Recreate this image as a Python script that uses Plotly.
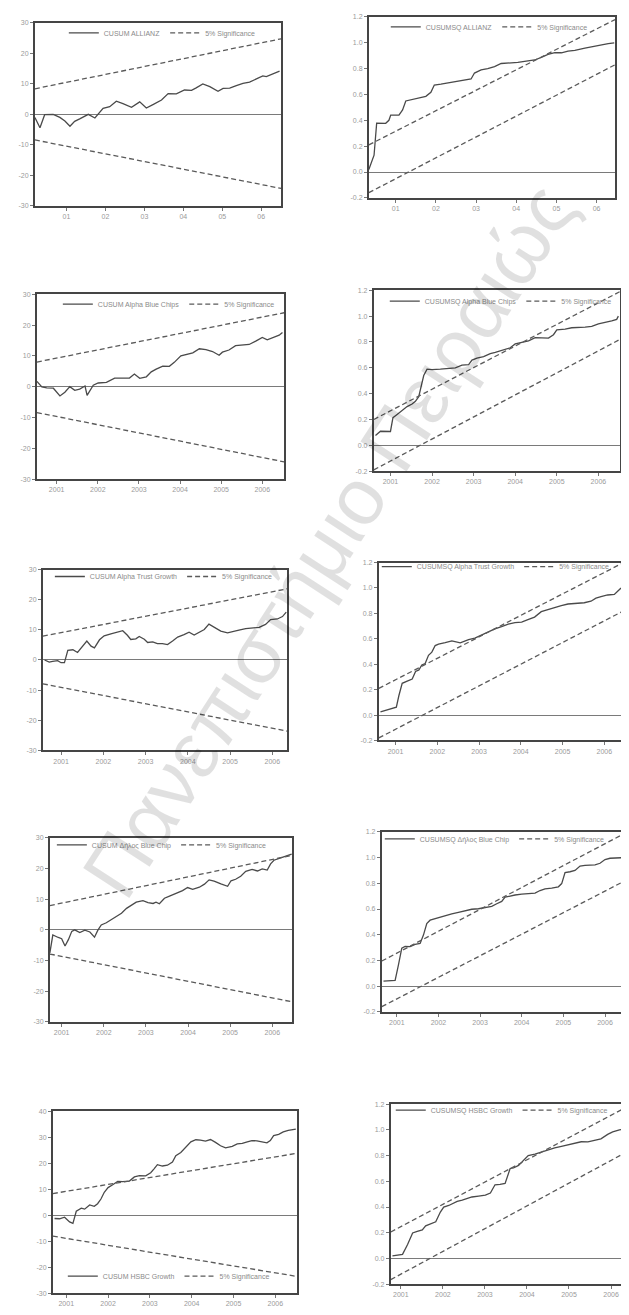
import plotly.graph_objects as go

# The page body has an 8px default margin; the figure is sized to fit the 629x1315 window.
OFF = 8
W, H = 629 - OFF, 1315 - 2 * OFF

# ---------------- tick values / labels ----------------
year_ticks = [2001, 2002, 2003, 2004, 2005, 2006]
year_labels_short = ["01", "02", "03", "04", "05", "06"]
year_labels_long = ["2001", "2002", "2003", "2004", "2005", "2006"]
cusum_ticks = [-30, -20, -10, 0, 10, 20, 30]
cusum_labels = ["-30", "-20", "-10", "0", "10", "20", "30"]
cusum_range = [-30, 30]
hsbc_cusum_ticks = [-30, -20, -10, 0, 10, 20, 30, 40]
hsbc_cusum_labels = ["-30", "-20", "-10", "0", "10", "20", "30", "40"]
hsbc_cusum_range = [-30, 40]
cusumsq_ticks = [-0.2, 0.0, 0.2, 0.4, 0.6, 0.8, 1.0, 1.2]
cusumsq_labels = ["-0.2", "0.0", "0.2", "0.4", "0.6", "0.8", "1.0", "1.2"]
cusumsq_range = [-0.2, 1.2]

# ---------------- ALLIANZ ----------------
allianz_cusum_t = [2000.19, 2000.32, 2000.44, 2000.66, 2000.83, 2000.96, 2001.09, 2001.21, 2001.34, 2001.47,
                   2001.56, 2001.73, 2001.81, 2001.94, 2002.11, 2002.28, 2002.45, 2002.67, 2002.88, 2003.05,
                   2003.22, 2003.44, 2003.61, 2003.82, 2004.03, 2004.21, 2004.33, 2004.50, 2004.68, 2004.89,
                   2005.02, 2005.19, 2005.36, 2005.53, 2005.70, 2005.87, 2006.04, 2006.13, 2006.30, 2006.47]
allianz_cusum = [-1.0, -4.4, -0.1, 0.0, -1.0, -2.2, -3.9, -2.3, -1.5, -0.5,
                 0.0, -1.2, 0.1, 2.0, 2.5, 4.3, 3.5, 2.3, 4.1, 2.1,
                 3.2, 4.7, 6.8, 6.7, 8.0, 7.9, 8.7, 10.0, 9.1, 7.6,
                 8.5, 8.6, 9.4, 10.2, 10.6, 11.6, 12.6, 12.4, 13.4, 14.2]
allianz_cusum_sig_t = [2000.19, 2006.51]
allianz_cusum_upper = [8.4, 24.8]
allianz_cusum_lower = [-8.4, -24.3]

allianz_sq_t = [2000.33, 2000.46, 2000.525, 2000.75, 2000.83, 2000.875, 2001.08, 2001.17, 2001.25, 2001.46,
                2001.625, 2001.75, 2001.875, 2001.96, 2002.125, 2002.33, 2002.54, 2002.75, 2002.875, 2002.96,
                2003.125, 2003.29, 2003.46, 2003.625, 2003.83, 2004.04, 2004.25, 2004.46, 2004.625, 2004.79,
                2004.96, 2005.125, 2005.29, 2005.46, 2005.71, 2005.875, 2006.04, 2006.29, 2006.44]
allianz_sq = [0.02, 0.13, 0.378, 0.377, 0.40, 0.44, 0.44, 0.48, 0.55, 0.567,
              0.58, 0.586, 0.617, 0.673, 0.68, 0.69, 0.70, 0.71, 0.72, 0.766,
              0.79, 0.80, 0.815, 0.84, 0.844, 0.848, 0.858, 0.867, 0.887, 0.91,
              0.924, 0.923, 0.935, 0.942, 0.959, 0.97, 0.98, 0.994, 1.0]
allianz_sq_sig_t = [2000.33, 2006.46]
allianz_sq_upper = [0.21, 1.18]
allianz_sq_lower = [-0.16, 0.83]

# ---------------- Alpha Blue Chips ----------------
alphabc_cusum_t = [2000.52, 2000.64, 2000.76, 2000.92, 2001.08, 2001.20, 2001.32, 2001.44, 2001.56, 2001.69,
                   2001.74, 2001.81, 2001.89, 2002.01, 2002.21, 2002.41, 2002.61, 2002.77, 2002.89, 2003.02,
                   2003.18, 2003.30, 2003.42, 2003.58, 2003.74, 2003.86, 2004.02, 2004.15, 2004.31, 2004.47,
                   2004.63, 2004.79, 2004.95, 2005.03, 2005.19, 2005.35, 2005.52, 2005.68, 2005.84, 2006.00,
                   2006.12, 2006.25, 2006.41, 2006.49]
alphabc_cusum = [1.7, -0.1, -0.4, -0.5, -3.0, -1.8, 0.0, -1.2, -0.8, 0.2,
                 -2.8, -1.4, 0.5, 1.2, 1.4, 2.8, 2.7, 2.8, 4.1, 2.7,
                 3.2, 4.8, 5.7, 6.7, 6.6, 7.9, 10.0, 10.5, 11.0, 12.3,
                 12.0, 11.4, 10.2, 11.2, 11.9, 13.3, 13.6, 13.7, 14.8, 16.0,
                 15.2, 15.9, 16.7, 17.6]
alphabc_cusum_sig_t = [2000.52, 2006.53]
alphabc_cusum_upper = [8.0, 24.0]
alphabc_cusum_lower = [-8.4, -24.4]

alphabc_sq_t = [2000.64, 2000.76, 2001.0, 2001.06, 2001.16, 2001.28, 2001.40, 2001.52, 2001.60, 2001.68,
                2001.72, 2001.80, 2001.88, 2002.0, 2002.2, 2002.4, 2002.56, 2002.72, 2002.88, 2002.96,
                2003.08, 2003.24, 2003.40, 2003.52, 2003.72, 2003.88, 2004.0, 2004.16, 2004.32, 2004.48,
                2004.8, 2004.92, 2005.0, 2005.2, 2005.36, 2005.68, 2005.84, 2006.0, 2006.16, 2006.32,
                2006.44, 2006.48]
alphabc_sq = [0.076, 0.109, 0.107, 0.214, 0.239, 0.27, 0.30, 0.32, 0.34, 0.377,
              0.44, 0.54, 0.59, 0.586, 0.59, 0.594, 0.60, 0.62, 0.625, 0.66,
              0.675, 0.687, 0.71, 0.72, 0.74, 0.755, 0.785, 0.797, 0.808, 0.833,
              0.83, 0.856, 0.894, 0.90, 0.91, 0.915, 0.92, 0.94, 0.95, 0.963,
              0.975, 1.0]
alphabc_sq_sig_t = [2000.6, 2006.52]
alphabc_sq_upper = [0.2, 1.19]
alphabc_sq_lower = [-0.19, 0.82]

# ---------------- Alpha Trust Growth ----------------
alphatg_cusum_t = [2000.61, 2000.72, 2000.80, 2000.92, 2001.0, 2001.08, 2001.16, 2001.28, 2001.39, 2001.51,
                   2001.61, 2001.71, 2001.79, 2001.91, 2002.02, 2002.18, 2002.34, 2002.46, 2002.57, 2002.65,
                   2002.77, 2002.85, 2002.97, 2003.05, 2003.17, 2003.28, 2003.40, 2003.52, 2003.64, 2003.76,
                   2003.91, 2004.03, 2004.15, 2004.27, 2004.39, 2004.50, 2004.62, 2004.78, 2004.94, 2005.06,
                   2005.21, 2005.37, 2005.53, 2005.69, 2005.84, 2005.96, 2006.12, 2006.24, 2006.33]
alphatg_cusum = [0.0, -0.7, -0.45, -0.2, -0.9, -0.9, 3.2, 3.4, 2.5, 4.7,
                 6.3, 4.6, 4.0, 6.7, 8.0, 8.7, 9.4, 9.7, 8.2, 6.8,
                 7.0, 7.8, 6.9, 5.8, 6.0, 5.4, 5.4, 5.1, 6.3, 7.6,
                 8.4, 9.2, 8.3, 9.3, 10.1, 11.9, 10.8, 9.6, 9.0, 9.5,
                 9.9, 10.4, 10.6, 10.8, 11.8, 13.4, 13.6, 14.4, 15.9]
alphatg_cusum_sig_t = [2000.57, 2006.35]
alphatg_cusum_upper = [7.9, 23.6]
alphatg_cusum_lower = [-7.9, -23.6]

alphatg_sq_t = [2000.64, 2000.76, 2000.88, 2001.02, 2001.08, 2001.16, 2001.28, 2001.40, 2001.48, 2001.56,
                2001.63, 2001.71, 2001.79, 2001.87, 2001.95, 2002.03, 2002.19, 2002.35, 2002.55, 2002.63,
                2002.75, 2002.90, 2003.06, 2003.22, 2003.38, 2003.54, 2003.70, 2003.86, 2004.02, 2004.17,
                2004.33, 2004.49, 2004.65, 2004.81, 2004.97, 2005.13, 2005.29, 2005.52, 2005.68, 2005.80,
                2005.92, 2006.08, 2006.24, 2006.35, 2006.40]
alphatg_sq = [0.026, 0.038, 0.045, 0.062, 0.152, 0.25, 0.267, 0.284, 0.343, 0.355,
              0.394, 0.406, 0.47, 0.495, 0.547, 0.559, 0.57, 0.583, 0.569, 0.58,
              0.593, 0.605, 0.63, 0.654, 0.679, 0.696, 0.716, 0.728, 0.732, 0.751,
              0.771, 0.814, 0.831, 0.85, 0.862, 0.874, 0.878, 0.884, 0.896, 0.92,
              0.933, 0.945, 0.95, 0.98, 1.0]
alphatg_sq_sig_t = [2000.6, 2006.4]
alphatg_sq_upper = [0.21, 1.19]
alphatg_sq_lower = [-0.18, 0.81]

# ---------------- Δήλος Blue Chip ----------------
delos_cusum_t = [2000.72, 2000.79, 2000.92, 2001.0, 2001.08, 2001.16, 2001.24, 2001.31, 2001.43, 2001.55,
                 2001.67, 2001.78, 2001.86, 2001.94, 2002.06, 2002.18, 2002.30, 2002.42, 2002.54, 2002.65,
                 2002.77, 2002.93, 2003.05, 2003.17, 2003.24, 2003.32, 2003.44, 2003.56, 2003.72, 2003.87,
                 2003.99, 2004.11, 2004.27, 2004.39, 2004.50, 2004.62, 2004.78, 2004.94, 2005.02, 2005.13,
                 2005.25, 2005.37, 2005.52, 2005.65, 2005.76, 2005.88, 2005.96, 2006.04, 2006.20, 2006.35,
                 2006.46]
delos_cusum = [-7.5, -1.7, -2.5, -2.9, -5.3, -3.2, -0.5, 0.0, -0.9, -0.1,
               -0.7, -2.4, -0.1, 1.6, 2.3, 3.4, 4.4, 5.4, 7.0, 8.0,
               9.0, 9.5, 8.9, 8.6, 9.0, 8.5, 10.3, 11.0, 11.8, 12.8,
               13.8, 13.2, 13.9, 14.9, 16.3, 15.9, 15.0, 14.2, 16.0, 16.5,
               17.5, 19.1, 19.7, 19.2, 19.9, 19.5, 21.5, 22.7, 23.5, 24.3,
               24.7]
delos_cusum_sig_t = [2000.72, 2006.47]
delos_cusum_upper = [7.9, 24.3]
delos_cusum_lower = [-7.9, -23.5]

delos_sq_t = [2000.68, 2000.84, 2000.96, 2001.04, 2001.12, 2001.20, 2001.32, 2001.44, 2001.56, 2001.64,
              2001.72, 2001.80, 2001.92, 2002.08, 2002.20, 2002.32, 2002.48, 2002.64, 2002.80, 2002.96,
              2003.12, 2003.28, 2003.40, 2003.52, 2003.60, 2003.72, 2003.84, 2004.0, 2004.16, 2004.32,
              2004.44, 2004.56, 2004.72, 2004.88, 2004.96, 2005.04, 2005.16, 2005.28, 2005.40, 2005.52,
              2005.76, 2005.88, 2006.0, 2006.12, 2006.44]
delos_sq = [0.039, 0.043, 0.045, 0.166, 0.296, 0.309, 0.308, 0.325, 0.332, 0.397,
            0.487, 0.513, 0.525, 0.537, 0.555, 0.562, 0.574, 0.586, 0.598, 0.602,
            0.609, 0.621, 0.641, 0.659, 0.692, 0.702, 0.709, 0.716, 0.72, 0.724,
            0.744, 0.757, 0.763, 0.773, 0.798, 0.884, 0.89, 0.90, 0.934, 0.94,
            0.944, 0.956, 0.985, 0.995, 1.0]
delos_sq_sig_t = [2000.64, 2006.48]
delos_sq_upper = [0.195, 1.19]
delos_sq_lower = [-0.16, 0.82]

# ---------------- HSBC Growth ----------------
hsbc_cusum_t = [2000.72, 2000.84, 2000.96, 2001.08, 2001.16, 2001.24, 2001.36, 2001.44, 2001.56, 2001.67,
                2001.75, 2001.83, 2001.91, 2002.0, 2002.12, 2002.23, 2002.35, 2002.51, 2002.63, 2002.75,
                2002.90, 2003.02, 2003.10, 2003.18, 2003.30, 2003.42, 2003.54, 2003.62, 2003.74, 2003.86,
                2003.98, 2004.10, 2004.21, 2004.33, 2004.45, 2004.57, 2004.69, 2004.81, 2004.97, 2005.09,
                2005.21, 2005.33, 2005.44, 2005.56, 2005.68, 2005.80, 2005.88, 2005.96, 2006.08, 2006.19,
                2006.31, 2006.43, 2006.49]
hsbc_cusum = [-1.3, -1.4, -0.8, -2.6, -3.2, 1.5, 2.7, 2.3, 3.9, 3.4,
              4.4, 6.2, 8.8, 10.6, 11.8, 13.0, 12.9, 13.1, 14.7, 15.2,
              15.1, 16.3, 17.8, 19.4, 18.9, 19.2, 20.4, 22.9, 24.1, 26.2,
              28.2, 29.0, 28.9, 28.5, 29.1, 28.0, 26.7, 25.9, 26.5, 27.4,
              27.6, 28.2, 28.7, 28.6, 28.3, 27.8, 28.7, 30.6, 31.1, 32.0,
              32.6, 33.1, 33.1]
hsbc_cusum_sig_t = [2000.68, 2006.52]
hsbc_cusum_upper = [8.3, 23.8]
hsbc_cusum_lower = [-8.1, -23.6]

hsbc_sq_t = [2000.80, 2000.92, 2001.04, 2001.16, 2001.28, 2001.39, 2001.51, 2001.59, 2001.71, 2001.83,
             2001.94, 2002.02, 2002.14, 2002.22, 2002.34, 2002.46, 2002.57, 2002.69, 2002.85, 2003.01,
             2003.13, 2003.24, 2003.36, 2003.48, 2003.60, 2003.68, 2003.80, 2003.91, 2004.03, 2004.19,
             2004.35, 2004.50, 2004.66, 2004.82, 2004.98, 2005.14, 2005.29, 2005.45, 2005.61, 2005.76,
             2005.92, 2006.04, 2006.20, 2006.35]
hsbc_sq = [0.02, 0.025, 0.032, 0.108, 0.198, 0.21, 0.222, 0.253, 0.268, 0.285,
           0.361, 0.40, 0.412, 0.424, 0.444, 0.454, 0.468, 0.478, 0.485, 0.492,
           0.509, 0.573, 0.577, 0.584, 0.70, 0.704, 0.724, 0.762, 0.80, 0.812,
           0.829, 0.843, 0.86, 0.872, 0.884, 0.896, 0.908, 0.907, 0.919, 0.931,
           0.965, 0.985, 1.0, 1.01]
hsbc_sq_sig_t = [2000.76, 2006.38]
hsbc_sq_upper = [0.206, 1.18]
hsbc_sq_lower = [-0.165, 0.83]

# ---------------- panel layout (window pixel boxes: left, top, right, bottom) ----------------
panels = [
    dict(name="CUSUM ALLIANZ", t=allianz_cusum_t, v=allianz_cusum, st=allianz_cusum_sig_t,
         up=allianz_cusum_upper, lo=allianz_cusum_lower, yr=cusum_range, yt=cusum_ticks, yl=cusum_labels,
         xl=year_labels_short, box=(35, 19, 282, 203), leg=(64, 29)),
    dict(name="CUSUMSQ ALLIANZ", t=allianz_sq_t, v=allianz_sq, st=allianz_sq_sig_t,
         up=allianz_sq_upper, lo=allianz_sq_lower, yr=cusumsq_range, yt=cusumsq_ticks, yl=cusumsq_labels,
         xl=year_labels_short, box=(370, 13, 617, 195), leg=(387, 23)),
    dict(name="CUSUM Alpha Blue Chips", t=alphabc_cusum_t, v=alphabc_cusum, st=alphabc_cusum_sig_t,
         up=alphabc_cusum_upper, lo=alphabc_cusum_lower, yr=cusum_range, yt=cusum_ticks, yl=cusum_labels,
         xl=year_labels_long, box=(37, 292, 285, 478), leg=(58, 302)),
    dict(name="CUSUMSQ Alpha Blue Chips", t=alphabc_sq_t, v=alphabc_sq, st=alphabc_sq_sig_t,
         up=alphabc_sq_upper, lo=alphabc_sq_lower, yr=cusumsq_range, yt=cusumsq_ticks, yl=cusumsq_labels,
         xl=year_labels_long, box=(375, 288, 622, 470), leg=(386, 299)),
    dict(name="CUSUM Alpha Trust Growth", t=alphatg_cusum_t, v=alphatg_cusum, st=alphatg_cusum_sig_t,
         up=alphatg_cusum_upper, lo=alphatg_cusum_lower, yr=cusum_range, yt=cusum_ticks, yl=cusum_labels,
         xl=year_labels_long, box=(43, 569, 288, 751), leg=(50, 576)),
    dict(name="CUSUMSQ Alpha Trust Growth", t=alphatg_sq_t, v=alphatg_sq, st=alphatg_sq_sig_t,
         up=alphatg_sq_upper, lo=alphatg_sq_lower, yr=cusumsq_range, yt=cusumsq_ticks, yl=cusumsq_labels,
         xl=year_labels_long, box=(380, 562, 623, 741), leg=(378, 566)),
    dict(name="CUSUM Δήλος Blue Chip", t=delos_cusum_t, v=delos_cusum, st=delos_cusum_sig_t,
         up=delos_cusum_upper, lo=delos_cusum_lower, yr=cusum_range, yt=cusum_ticks, yl=cusum_labels,
         xl=year_labels_long, box=(50, 839, 293, 1024), leg=(52, 846)),
    dict(name="CUSUMSQ Δήλος Blue Chip", t=delos_sq_t, v=delos_sq, st=delos_sq_sig_t,
         up=delos_sq_upper, lo=delos_sq_lower, yr=cusumsq_range, yt=cusumsq_ticks, yl=cusumsq_labels,
         xl=year_labels_long, box=(383, 833, 627, 1014), leg=(381, 840)),
    dict(name="CUSUM HSBC Growth", t=hsbc_cusum_t, v=hsbc_cusum, st=hsbc_cusum_sig_t,
         up=hsbc_cusum_upper, lo=hsbc_cusum_lower, yr=hsbc_cusum_range, yt=hsbc_cusum_ticks, yl=hsbc_cusum_labels,
         xl=year_labels_long, box=(53, 1114, 298, 1297), leg=(63, 1280)),
    dict(name="CUSUMSQ HSBC Growth", t=hsbc_sq_t, v=hsbc_sq, st=hsbc_sq_sig_t,
         up=hsbc_sq_upper, lo=hsbc_sq_lower, yr=cusumsq_range, yt=cusumsq_ticks, yl=cusumsq_labels,
         xl=year_labels_long, box=(392, 1107, 629, 1288), leg=(392, 1113)),
]


def px_x(v):
    return min(1.0, max(0.0, (v - OFF) / W))


def px_y(v):
    return min(1.0, max(0.0, 1 - (v - OFF) / H))


FONT = "Liberation Sans, Arial, sans-serif"
LINE_C = "#4a4a4a"
DASH_C = "#5a5a5a"
FRAME_C = "#454545"
TEXT_C = "#9a9a9a"

fig = go.Figure()
layout = dict(
    width=W, height=H, margin=dict(l=0, r=0, t=0, b=0),
    paper_bgcolor="white", plot_bgcolor="white",
    font=dict(family=FONT, size=7, color=TEXT_C),
    showlegend=True,
)

for i, p in enumerate(panels, start=1):
    sfx = "" if i == 1 else str(i)
    xa, ya = "x" + sfx, "y" + sfx
    lg = "legend" + sfx
    l, t, r, b = p["box"]
    fig.add_trace(go.Scatter(x=p["t"], y=p["v"], mode="lines", name=p["name"],
                             line=dict(color=LINE_C, width=1.3), xaxis=xa, yaxis=ya, legend=lg))
    fig.add_trace(go.Scatter(x=p["st"], y=p["up"], mode="lines", name="5% Significance",
                             line=dict(color=DASH_C, width=1.3, dash="5px,3px"),
                             xaxis=xa, yaxis=ya, legend=lg))
    fig.add_trace(go.Scatter(x=p["st"], y=p["lo"], mode="lines", name="5% Significance",
                             line=dict(color=DASH_C, width=1.3, dash="5px,3px"),
                             xaxis=xa, yaxis=ya, legend=lg, showlegend=False))
    common = dict(showline=True, mirror=True, linecolor=FRAME_C, linewidth=1.8,
                  ticks="outside", ticklen=3, tickwidth=1, tickcolor="#777",
                  showgrid=False, tickfont=dict(family=FONT, size=7, color=TEXT_C))
    layout["xaxis" + sfx] = dict(common, domain=[px_x(l), px_x(r)], range=[p["st"][0], p["st"][1]],
                                 tickvals=year_ticks, ticktext=p["xl"], zeroline=False,
                                 anchor=ya)
    layout["yaxis" + sfx] = dict(common, domain=[px_y(b), px_y(t)], range=p["yr"],
                                 tickvals=p["yt"], ticktext=p["yl"], zeroline=True,
                                 zerolinecolor="#7a7a7a", zerolinewidth=1, anchor=xa)
    lx, ly = p["leg"]
    layout[lg] = dict(x=px_x(lx), y=px_y(ly), xanchor="left", yanchor="middle",
                      orientation="h", bgcolor="rgba(0,0,0,0)", borderwidth=0,
                      font=dict(family=FONT, size=7, color="#8a8a8a"),
                      itemwidth=30, tracegroupgap=0)

layout["annotations"] = [dict(
    text="Πανεπιστήμιο Πειραιώς", xref="paper", yref="paper",
    x=px_x(330), y=px_y(540), showarrow=False, textangle=-57,
    font=dict(family=FONT, size=80, color="rgba(0,0,0,0.12)"),
)]

fig.update_layout(**layout)
fig.write_html("out.html")
